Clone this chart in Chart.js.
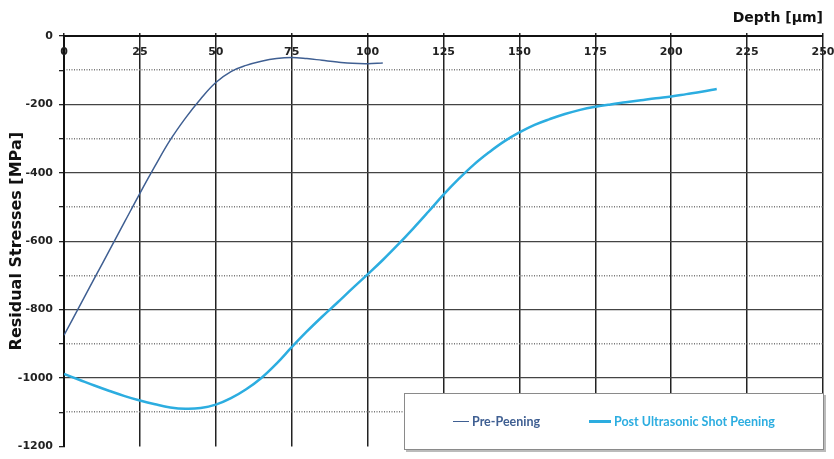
<!DOCTYPE html>
<html>
<head>
<meta charset="utf-8">
<script src="https://cdn.jsdelivr.net/npm/chart.js"></script>
<style>
  body { margin: 0; background: #fff; }
  #wrap { position: relative; width: 834px; height: 459px; }
  #legend {
    position: absolute; left: 404px; top: 393px; width: 418px; height: 55px;
    background: #fff; border: 1px solid #8a8a8a; box-shadow: 2px 2px 0 #bbb;
    font: bold 12.5px "Lato", sans-serif;
  }
  .item { position: absolute; top: 20px; display: flex; align-items: center; white-space: nowrap; }
  .swatch { display: inline-block; margin-right: 3px; }
</style>
</head>
<body>
<div id="wrap">
  <canvas id="myChart" width="834" height="459"></canvas>
  <div id="legend"></div>
</div>
<script>
// depth in µm, stress in MPa
let depthPre = [0, 5, 10, 15, 20, 25, 30, 35, 40, 45, 50, 55, 60, 65, 70, 75, 80, 85, 90, 95, 100, 105];
let stressPre = [-875, -792, -709, -626, -543, -460, -380, -304, -240, -184, -136, -104, -86, -74, -66, -63, -66, -71, -76, -80, -81, -79];

let depthPost = [0, 5, 10, 15, 20, 25, 30, 35, 40, 45, 50, 55, 60, 65, 70, 75, 80, 85, 90, 95, 100, 105, 110,
  115, 120, 125, 130, 135, 140, 145, 150, 155, 160, 165, 170, 175, 180, 185, 190, 195, 200, 205, 210, 215];
let stressPost = [-988, -1005, -1022, -1038, -1053, -1066, -1077, -1086, -1090, -1088, -1078, -1059, -1033, -1000, -958, -910, -864, -821, -780, -738, -697, -655, -610,
  -563, -514, -464, -418, -376, -340, -308, -282, -260, -243, -228, -216, -207, -200, -194, -188, -182, -177, -170, -163, -155];

let seriesNames = ["Pre-Peening", "Post Ultrasonic Shot Peening"];
let seriesColors = ["#3f5f92", "#2cade0"];

function pts(xs, ys) {
  let out = [];
  for (let i = 0; i < xs.length; i++) out.push({x: xs[i], y: ys[i]});
  return out;
}

// x tick labels sit just under the top axis, inside the plot
const xLabels = {
  id: 'xLabels',
  afterDatasetsDraw(chart) {
    const ctx = chart.ctx;
    const x = chart.scales.x;
    ctx.save();
    ctx.font = 'bold 11px "DejaVu Sans"';
    ctx.fillStyle = '#222';
    ctx.textAlign = 'center';
    ctx.textBaseline = 'middle';
    x.ticks.forEach(t => ctx.fillText(String(t.value), x.getPixelForValue(t.value), chart.chartArea.top + 16));
    ctx.restore();
  }
};

new Chart("myChart", {
  type: "line",
  data: {
    datasets: [
      { label: seriesNames[0], data: pts(depthPre, stressPre), borderColor: seriesColors[0], borderWidth: 1.5,
        pointRadius: 0, tension: 0.4, fill: false },
      { label: seriesNames[1], data: pts(depthPost, stressPost), borderColor: seriesColors[1], borderWidth: 2.5,
        pointRadius: 0, tension: 0.4, fill: false }
    ]
  },
  options: {
    responsive: false,
    animation: false,
    layout: { padding: { left: 0, right: 11, top: 0, bottom: 7 } },
    plugins: { legend: { display: false }, tooltip: { enabled: false } },
    scales: {
      x: {
        type: 'linear', position: 'top', min: 0, max: 250,
        ticks: { stepSize: 25, display: false },
        grid: { color: '#222', lineWidth: 1.5, tickLength: 3, tickColor: '#222' },
        border: { color: '#111', width: 2 },
        title: { display: true, text: 'Depth [µm]', align: 'end', color: '#111',
                 font: { family: '"DejaVu Sans"', size: 14, weight: 'bold' }, padding: { top: 10, bottom: 0 } },
        afterFit: s => { s.height = 36; }
      },
      y: {
        position: 'left', min: -1200, max: 0,
        ticks: { stepSize: 100, color: '#222', padding: 6,
                 font: { family: '"DejaVu Sans"', size: 11, weight: 'bold' },
                 callback: v => (v % 200 === 0 ? v : '') },
        grid: {
          lineWidth: 1.3,
          color: c => (c.tick && c.tick.value % 200 === 0 && c.tick.value > -1200 ? '#444' : 'rgba(0,0,0,0)'),
          tickColor: '#222', tickLength: 5
        },
        border: { color: '#111', width: 2 },
        title: { display: true, text: 'Residual Stresses [MPa]', color: '#111',
                 font: { family: '"DejaVu Sans"', size: 16, weight: 'bold' }, padding: { top: 7, bottom: 0 } },
        afterFit: s => { s.width = 64; }
      },
      y2: {
        position: 'left', min: -1200, max: 0, weight: -1,
        ticks: { stepSize: 100, display: false },
        grid: {
          drawTicks: false, lineWidth: 1.5,
          color: c => (c.tick && Math.abs(c.tick.value % 200) === 100 ? '#777' : 'rgba(0,0,0,0)')
        },
        border: { display: false, dash: [1, 1.5] },
        afterFit: s => { s.width = 0; }
      }
    }
  },
  plugins: [xLabels]
});

// legend box, bottom right over the plot
let lg = document.getElementById('legend');
let lefts = [48, 184];
let swW = [16, 22];
let swH = [1.5, 2.5];
seriesNames.forEach((n, i) => {
  let d = document.createElement('div');
  d.className = 'item';
  d.style.left = lefts[i] + 'px';
  d.style.color = seriesColors[i];
  d.innerHTML = '<span class="swatch" style="width:' + swW[i] + 'px;height:' + swH[i] + 'px;background:' + seriesColors[i] + '"></span>' + n;
  lg.appendChild(d);
});
</script>
</body>
</html>
